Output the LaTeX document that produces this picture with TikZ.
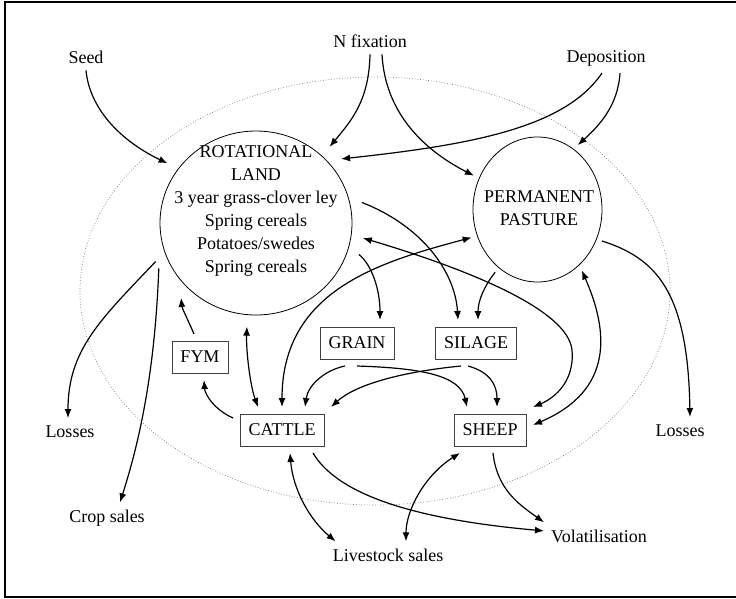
\documentclass[tikz,border=0pt]{standalone}
\usepackage{fontspec}
\setmainfont{Liberation Serif}
\usetikzlibrary{arrows.meta,shapes.geometric}

\begin{document}
\begin{tikzpicture}[x=1pt,y=-1pt,>={Latex[length=9pt,width=7pt]},
    font=\fontsize{18}{23}\selectfont,
    flow/.style={line width=1.2pt},
    land/.style={draw,ellipse,line width=0.8pt,inner sep=0pt},
    stock/.style={draw=black!75,line width=0.8pt,minimum height=32pt,inner xsep=8.5pt,inner ysep=0pt,outer sep=7pt},
    term/.style={inner sep=7pt,anchor=base}]
    \useasboundingbox (0,0) rectangle (736,598);

    % frame
    \draw[line width=2pt] (737,2) -- (5,2) -- (5,596.5) -- (737,596.5);

    % the farm boundary
    \draw[black!55,dotted,line width=0.7pt] (375,291) ellipse [x radius=295pt, y radius=214pt];

    % land
    \node[land,minimum width=192pt,minimum height=184pt,outer sep=12pt] (rot) at (256,223) {};
    \node[align=center] (rottext) at (256,211) {ROTATIONAL\\LAND\\3 year grass-clover ley\\Spring cereals\\Potatoes/swedes\\Spring cereals};
    \node[land,minimum width=129pt,minimum height=145pt,outer sep=6pt] (past) at (537.5,209.5) {};
    \node[align=center] (pasttext) at (539,208) {PERMANENT\\PASTURE};

    % stores and stock
    \node[stock] (fym) at (200,357) {FYM};
    \node[stock] (grain) at (357,343) {GRAIN};
    \node[stock] (silage) at (476,343) {SILAGE};
    \node[stock] (cattle) at (282,430) {CATTLE};
    \node[stock] (sheep) at (490,430) {SHEEP};

    % inputs and outputs
    \node[term] (seed) at (86,63) {Seed};
    \node[term] (nfix) at (370,47) {N fixation};
    \node[term] (depo) at (606,62) {Deposition};
    \node[term] (lossL) at (70,437) {Losses};
    \node[term] (crop) at (107,522) {Crop sales};
    \node[term] (live) at (388,561) {Livestock sales};
    \node[term] (vol) at (599,542) {Volatilisation};
    \node[term] (lossR) at (680,436) {Losses};

    % inputs
    \draw[flow,->] (seed.south) .. controls (90,112) and (125,143) .. (rot.146);
    \draw[flow,->] (nfix.south) .. controls (369,100) and (352,120) .. (rot.46);
    \draw[flow,->] ([xshift=12pt]nfix.south) .. controls (385,110) and (420,148) .. (past.152);
    \draw[flow,->] ([xshift=-4pt]depo.south) .. controls (565,128) and (470,145) .. (rot.37);
    \draw[flow,->] ([xshift=14pt]depo.south) .. controls (618,105) and (600,125) .. (past.58);

    % losses and sales from the land
    \draw[flow,->] (rot.-159) .. controls (100,320) and (68,350) .. ([xshift=-2pt]lossL.north);
    \draw[flow,->] (rot.-155) .. controls (155,370) and (140,440) .. ([xshift=13pt]crop.north);
    \draw[flow,->] (past.-26) .. controls (655,258) and (688,290) .. ([xshift=10pt]lossR.north);

    % land, crops and stock
    \draw[flow,->] ([xshift=-6pt]fym.north) .. controls (188,320) and (182,308) .. (rot.-135);
    \draw[flow,<->] (rot.-95) .. controls (246,350) and (250,385) .. ([xshift=-24pt]cattle.north);
    \draw[flow,->] ([yshift=12pt]cattle.west) .. controls (215,410) and (205,395) .. ([xshift=4pt]fym.south);
    \draw[flow,->] (rot.-17) .. controls (372,265) and (380,290) .. ([xshift=23pt]grain.north);
    \draw[flow,->] (rot.11) .. controls (420,225) and (455,270) .. ([xshift=-18pt]silage.north);
    \draw[flow,->] (past.-124) .. controls (485,285) and (478,300) .. ([xshift=2pt]silage.north);
    \draw[flow,<->] (cattle.north) .. controls (282,290) and (380,262) .. (past.-157);
    \draw[flow,<->] (rot.-8) .. controls (470,270) and (568,310) .. (572,350)
        .. controls (575,385) and (550,400) .. (sheep.north east);
    \draw[flow,<->] (past.-54) .. controls (608,330) and (615,390) .. ([yshift=5pt]sheep.east);

    % feed
    \draw[flow,->] ([xshift=-12pt]grain.south) .. controls (325,370) and (308,385) .. ([xshift=23pt]cattle.north);
    \draw[flow,->] ([xshift=-15pt]silage.south) .. controls (400,372) and (355,385) .. (cattle.north east);
    \draw[flow,->] (grain.south) .. controls (420,368) and (460,375) .. ([xshift=-23pt]sheep.north);
    \draw[flow,->] ([xshift=-8pt]silage.south) .. controls (490,372) and (497,385) .. ([xshift=7pt]sheep.north);

    % outputs
    \draw[flow,->] ([xshift=31pt]cattle.south) .. controls (335,490) and (400,518) .. ([yshift=5pt]vol.west);
    \draw[flow,->] ([xshift=3pt]sheep.south) .. controls (497,490) and (520,505) .. (vol.north west);
    \draw[flow,<->] ([xshift=8pt]cattle.south) .. controls (293,490) and (310,520) .. ([xshift=10pt]live.north west);
    \draw[flow,<->] ([xshift=18pt]live.north) .. controls (406,510) and (425,475) .. ([xshift=-30pt]sheep.south);

\end{tikzpicture}
\end{document}
